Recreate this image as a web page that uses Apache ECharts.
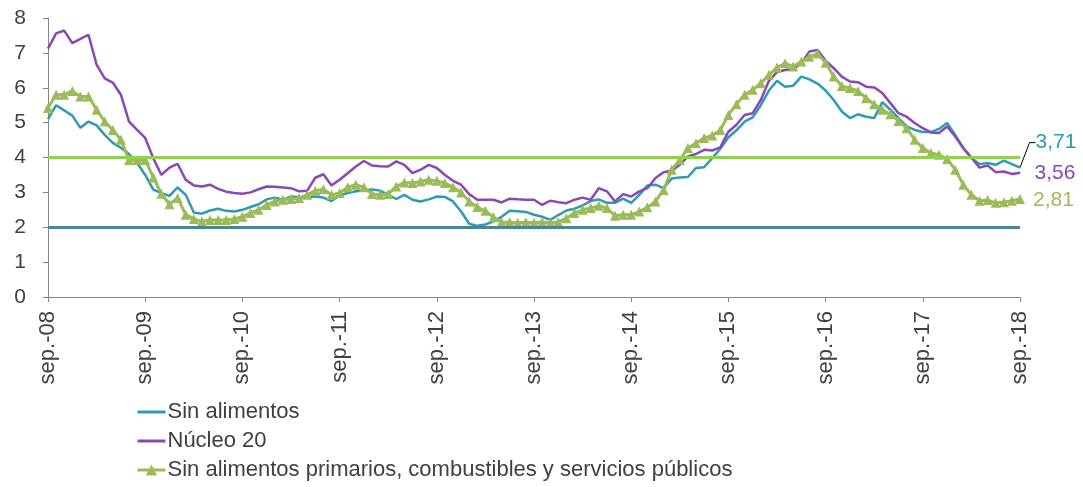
<!DOCTYPE html>
<html>
<head>
<meta charset="utf-8">
<script src="https://cdn.jsdelivr.net/npm/echarts@6/dist/echarts.min.js"></script>
<style>
html, body { margin: 0; padding: 0; background: #fff; }
#grafico { width: 1083px; height: 487px; }
</style>
</head>
<body>
<div id="grafico"></div>
<script>
// meses sep-08 .. sep-18
var meses = ['ene', 'feb', 'mar', 'abr', 'may', 'jun', 'jul', 'ago', 'sep', 'oct', 'nov', 'dic'];
var categorias = [];
for (var k = 0; k < 121; k++) {
  var m = (8 + k) % 12;
  var a = 8 + Math.floor((8 + k) / 12);
  categorias.push(meses[m] + '.-' + (a < 10 ? '0' + a : a));
}

var sinAlimentos = [
  5.1, 5.5, 5.35, 5.2, 4.85, 5.03, 4.92, 4.65, 4.42, 4.28, 4.1, 3.85, 3.5, 3.08, 2.98, 2.9, 3.14, 2.93, 2.42, 2.39, 2.48, 2.53, 2.47, 2.45, 2.5,
  2.58, 2.66, 2.8, 2.85, 2.79, 2.88, 2.86, 2.85, 2.88, 2.85, 2.75, 2.92, 2.98, 3.03, 3.06, 3.08, 3.05, 2.93, 2.81, 2.93, 2.79, 2.74, 2.8, 2.88,
  2.87, 2.74, 2.45, 2.1, 2.04, 2.08, 2.17, 2.3, 2.47, 2.46, 2.44, 2.36, 2.3, 2.21, 2.35, 2.48, 2.53, 2.63, 2.75, 2.8, 2.7, 2.7, 2.82, 2.7,
  2.93, 3.2, 3.22, 3.12, 3.4, 3.43, 3.44, 3.7, 3.72, 3.98, 4.25, 4.58, 4.78, 5.03, 5.15, 5.5, 5.92, 6.2, 6.03, 6.06, 6.32, 6.24, 6.12, 5.92,
  5.65, 5.32, 5.13, 5.24, 5.17, 5.13, 5.59, 5.37, 5.13, 4.89, 4.79, 4.73, 4.73, 4.82, 4.99, 4.65, 4.27, 3.98, 3.81, 3.84, 3.79, 3.91, 3.81, 3.71
];
var nucleo20 = [
  7.12, 7.56, 7.64, 7.28, 7.4, 7.52, 6.66, 6.27, 6.15, 5.8, 5.03, 4.79, 4.56, 3.98, 3.5, 3.71, 3.82, 3.36, 3.2, 3.17, 3.22, 3.1, 3.02, 2.98, 2.96,
  3.0, 3.09, 3.17, 3.16, 3.14, 3.12, 3.03, 3.05, 3.42, 3.52, 3.2, 3.36, 3.55, 3.74, 3.9, 3.77, 3.75, 3.74, 3.89, 3.79, 3.55, 3.65, 3.79, 3.7,
  3.5, 3.33, 3.22, 2.95, 2.79, 2.79, 2.79, 2.71, 2.82, 2.8, 2.79, 2.79, 2.64, 2.76, 2.72, 2.69, 2.79, 2.85, 2.79, 3.12, 3.03, 2.74, 2.95, 2.88,
  3.03, 3.12, 3.41, 3.58, 3.62, 3.79, 4.03, 4.1, 4.22, 4.2, 4.29, 4.74, 4.94, 5.22, 5.27, 5.65, 6.2, 6.45, 6.51, 6.53, 6.7, 7.04, 7.08, 6.78,
  6.56, 6.32, 6.18, 6.16, 6.03, 6.01, 5.85, 5.56, 5.27, 5.17, 4.99, 4.84, 4.72, 4.7, 4.89, 4.6, 4.27, 4.0, 3.71, 3.77, 3.58, 3.6, 3.53, 3.56
];
var sinPrimarios = [
  5.42, 5.8, 5.8, 5.91, 5.75, 5.75, 5.37, 5.03, 4.79, 4.51, 3.93, 3.93, 3.93, 3.43, 2.96, 2.66, 2.84, 2.36, 2.24, 2.17, 2.21, 2.21, 2.21, 2.24, 2.3,
  2.41, 2.5, 2.64, 2.74, 2.79, 2.81, 2.84, 2.93, 3.05, 3.09, 2.93, 2.98, 3.15, 3.22, 3.15, 2.95, 2.93, 2.95, 3.17, 3.28, 3.27, 3.31, 3.36, 3.33,
  3.27, 3.15, 3.0, 2.74, 2.58, 2.47, 2.29, 2.14, 2.14, 2.13, 2.14, 2.13, 2.14, 2.13, 2.15, 2.26, 2.41, 2.5, 2.55, 2.62, 2.55, 2.33, 2.36, 2.36,
  2.45, 2.57, 2.74, 3.07, 3.65, 3.93, 4.27, 4.41, 4.56, 4.63, 4.79, 5.22, 5.53, 5.8, 5.94, 6.13, 6.37, 6.58, 6.7, 6.61, 6.75, 6.89, 6.98, 6.72,
  6.32, 6.05, 5.99, 5.91, 5.7, 5.53, 5.37, 5.24, 5.05, 4.84, 4.51, 4.27, 4.13, 4.08, 3.96, 3.65, 3.22, 2.93, 2.76, 2.78, 2.7, 2.72, 2.76, 2.81
];
// rango meta
var metaInferior = 2;
var metaSuperior = 4;

var fuente = 'Liberation Sans';
var colTeal = '#2E9BB2';
var colMorado = '#8A48B5';
var colVerde = '#9BBB59';

function coma(p) {
  return String(p.value).replace('.', ',');
}

// solo el ultimo dato lleva etiqueta (y un simbolo minimo para poder mostrarla)
function ultimoConEtiqueta(arr, color, conSimbolo) {
  return arr.map(function (v, i) {
    if (i !== arr.length - 1) return v;
    var item = {
      value: v,
      label: { show: true, position: 'right', formatter: coma, color: color, fontSize: 21, fontFamily: fuente }
    };
    if (conSimbolo) {
      item.symbol = 'circle';
      item.symbolSize = 1;
    }
    return item;
  });
}

var chart = echarts.init(document.getElementById('grafico'));
var option = {
  animation: false,
  textStyle: { fontFamily: fuente },
  grid: { left: 48, right: 63, top: 18, bottom: 190, containLabel: false },
  legend: {
    orient: 'vertical',
    left: 136,
    top: 401,
    height: 86,
    padding: 0,
    itemWidth: 28,
    itemHeight: 14,
    itemGap: 7,
    lineStyle: { width: 3 },
    textStyle: { fontSize: 22, lineHeight: 22, color: '#404040', fontFamily: fuente, padding: [0, 0, 0, -3] },
    data: [
      { name: 'Sin alimentos', itemStyle: { opacity: 0 } },
      { name: 'Núcleo 20', itemStyle: { opacity: 0 } },
      { name: 'Sin alimentos primarios, combustibles y servicios públicos' }
    ]
  },
  xAxis: {
    type: 'category',
    boundaryGap: false,
    data: categorias,
    axisLine: { lineStyle: { color: '#868686', width: 1 } },
    axisTick: { show: true, interval: 11, length: 5, lineStyle: { color: '#868686' } },
    axisLabel: { interval: 11, rotate: 90, fontSize: 22, color: '#404040', margin: 14, fontFamily: fuente }
  },
  yAxis: {
    type: 'value',
    min: 0,
    max: 8,
    interval: 1,
    axisLine: { show: true, lineStyle: { color: '#868686', width: 1 } },
    axisTick: { show: true, length: 5, lineStyle: { color: '#868686' } },
    axisLabel: { fontSize: 21, color: '#404040', margin: 22, fontFamily: fuente },
    splitLine: { show: false }
  },
  series: [
    {
      name: 'Sin alimentos',
      type: 'line',
      data: ultimoConEtiqueta(sinAlimentos, colTeal, true),
      symbol: 'none',
      showAllSymbol: true,
      lineStyle: { color: colTeal, width: 2.5 },
      itemStyle: { color: colTeal },
      labelLayout: { dx: 10, dy: -25 },
      labelLine: { show: true, length2: 6, lineStyle: { color: '#000', width: 1 } },
      markLine: {
        silent: true,
        symbol: 'none',
        label: { show: false },
        lineStyle: { color: '#4C8595', width: 3, type: 'solid' },
        data: [{ yAxis: metaInferior }]
      },
      z: 2
    },
    {
      name: 'Núcleo 20',
      type: 'line',
      data: ultimoConEtiqueta(nucleo20, colMorado, true),
      symbol: 'none',
      showAllSymbol: true,
      lineStyle: { color: colMorado, width: 2.5 },
      itemStyle: { color: colMorado },
      labelLayout: { dx: 9, dy: 0 },
      markLine: {
        silent: true,
        symbol: 'none',
        label: { show: false },
        lineStyle: { color: '#92D050', width: 3, type: 'solid' },
        data: [{ yAxis: metaSuperior }]
      },
      z: 3
    },
    {
      name: 'Sin alimentos primarios, combustibles y servicios públicos',
      type: 'line',
      data: ultimoConEtiqueta(sinPrimarios, colVerde, false),
      symbol: 'triangle',
      symbolSize: 10,
      showAllSymbol: true,
      lineStyle: { color: colVerde, width: 3 },
      itemStyle: { color: colVerde },
      labelLayout: { dx: 3, dy: 1 },
      z: 4
    }
  ]
};
chart.setOption(option);
</script>
</body>
</html>
